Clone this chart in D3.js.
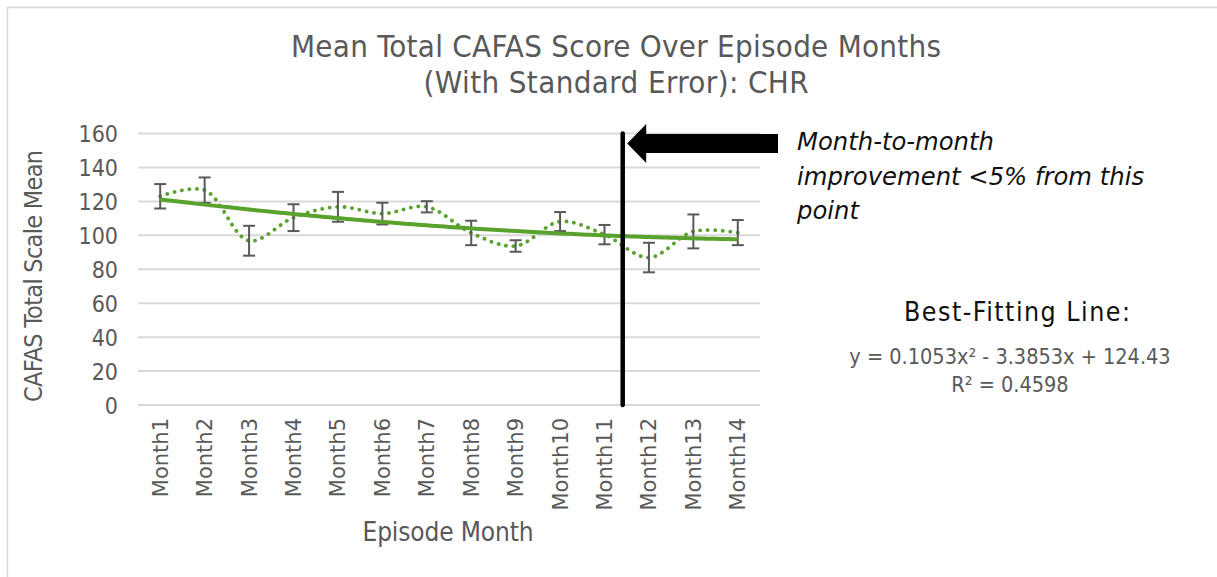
<!DOCTYPE html>
<html><head><meta charset="utf-8">
<script src="https://cdn.jsdelivr.net/npm/d3@7"></script>
<style>
html,body{margin:0;padding:0;background:#fff;}
svg{display:block;}
</style></head>
<body>
<svg id="chart" width="1217" height="577"></svg>
<script>
const months = ["Month1","Month2","Month3","Month4","Month5","Month6","Month7","Month8","Month9","Month10","Month11","Month12","Month13","Month14"];
const meanScores = [123, 126.6, 96.8, 110.4, 116.8, 112.8, 116.8, 101.4, 93.7, 108.1, 100.4, 86.9, 102.3, 101.6];
const stdErrors = [7.2, 7.5, 8.8, 7.9, 8.8, 6.4, 3.3, 7.2, 3.4, 5.6, 5.7, 8.7, 10.0, 7.4];
const yTicks = [0, 20, 40, 60, 80, 100, 120, 140, 160];
const trendCoef = [124.43, -3.3853, 0.1053]; // c0 + c1*x + c2*x^2 (from chart label)
const titleLines = ["Mean Total CAFAS Score Over Episode Months", "(With Standard Error): CHR"];
const noteLines = ["Month-to-month", "improvement <5% from this", "point"];
const fitLines = ["y = 0.1053x\u00B2 - 3.3853x + 124.43", "R\u00B2 = 0.4598"];

const COND = '"DejaVu Sans Condensed","DejaVu Sans",sans-serif';
const WIDE = '"DejaVu Sans",sans-serif';

const svg = d3.select("#chart");
const green = "#58a22d", grid = "#d9d9d9", gray = "#595959";

// chart border
svg.append("rect").attr("x", 7.5).attr("y", 7.5).attr("width", 1230).attr("height", 600)
  .attr("fill", "#fff").attr("stroke", grid).attr("stroke-width", 1.5);

const plot = {left: 138, right: 760, top: 133.5, bottom: 405};
const x = d3.scaleBand().domain(months).range([plot.left, plot.right]);
const y = d3.scaleLinear().domain([0, 160]).range([plot.bottom, plot.top]);
const cx = m => x(m) + x.bandwidth() / 2;

// gridlines
svg.append("g").selectAll("line").data(yTicks).join("line")
  .attr("x1", plot.left).attr("x2", plot.right)
  .attr("y1", d => y(d)).attr("y2", d => y(d))
  .attr("stroke", grid).attr("stroke-width", 2);

// y axis labels
const yAxis = svg.append("g").attr("transform", `translate(${plot.left - 20},0)`)
  .call(d3.axisLeft(y).tickValues(yTicks).tickSize(0).tickPadding(0));
yAxis.select(".domain").remove();
yAxis.attr("font-family", null).attr("font-size", null);
yAxis.selectAll("text").attr("font-size", 23).attr("fill", gray)
  .style("font-family", COND).attr("dy", "0.36em");

// x axis labels
const xAxis = svg.append("g").attr("transform", `translate(0,${plot.bottom})`)
  .call(d3.axisBottom(x).tickSize(0).tickPadding(0));
xAxis.select(".domain").remove();
xAxis.attr("font-family", null).attr("font-size", null);
xAxis.selectAll("text")
  .attr("font-size", 21).attr("fill", gray)
  .style("font-family", WIDE)
  .attr("transform", "rotate(-90)")
  .attr("text-anchor", "end").attr("dy", "0.36em").attr("x", -13).attr("y", 0);

// titles
const titleW = [650, 385];
svg.append("text").attr("text-anchor", "middle")
  .attr("font-size", 31).attr("fill", gray).style("font-family", COND)
  .selectAll("tspan").data(titleLines).join("tspan")
  .attr("x", 616).attr("y", (d, i) => 57 + i * 35.5)
  .attr("textLength", (d, i) => titleW[i]).text(d => d);

svg.append("text").attr("transform", "translate(42,276) rotate(-90)")
  .attr("text-anchor", "middle").attr("font-size", 25).attr("fill", gray)
  .style("font-family", COND).attr("textLength", 252)
  .text("CAFAS Total Scale Mean");

svg.append("text").attr("x", 448).attr("y", 541).attr("text-anchor", "middle")
  .attr("font-size", 26).attr("fill", gray).style("font-family", COND)
  .attr("textLength", 171).text("Episode Month");

// data series (smoothed dotted)
const pts = months.map((m, i) => [cx(m), y(meanScores[i])]);
svg.append("path").datum(pts)
  .attr("d", d3.line().curve(d3.curveCatmullRom.alpha(0.5)))
  .attr("fill", "none").attr("stroke", green).attr("stroke-width", 3.8)
  .attr("stroke-linecap", "round").attr("stroke-dasharray", "0.1 7.4");

// error bars
const eb = svg.append("g").attr("stroke", gray).attr("stroke-width", 2);
months.forEach((m, i) => {
  const hi = y(meanScores[i] + stdErrors[i]), lo = y(meanScores[i] - stdErrors[i]);
  const c = cx(m);
  eb.append("line").attr("x1", c).attr("x2", c).attr("y1", hi).attr("y2", lo);
  eb.append("line").attr("x1", c - 6).attr("x2", c + 6).attr("y1", hi).attr("y2", hi);
  eb.append("line").attr("x1", c - 6).attr("x2", c + 6).attr("y1", lo).attr("y2", lo);
});

// polynomial trendline
const tx = d3.scaleLinear().domain([1, months.length]).range([cx(months[0]), cx(months[months.length - 1])]);
const trendPts = d3.range(1, months.length + 0.001, 0.1)
  .map(t => [tx(t), y(trendCoef[0] + trendCoef[1] * t + trendCoef[2] * t * t)]);
svg.append("path").datum(trendPts).attr("d", d3.line())
  .attr("fill", "none").attr("stroke", green).attr("stroke-width", 4);

// vertical marker line
const vx = cx("Month11") + 0.41 * x.step();
svg.append("line").attr("x1", vx).attr("x2", vx).attr("y1", y(160)).attr("y2", y(0))
  .attr("stroke", "#000").attr("stroke-width", 4.5).attr("stroke-linecap", "round");

// arrow
const ay = 143.5;
const tip = vx + 4.5;
svg.append("path")
  .attr("d", `M${tip},${ay} L${tip + 19},${ay - 19.5} L${tip + 19},${ay - 9.5} L778,${ay - 9.5} L778,${ay + 9.5} L${tip + 19},${ay + 9.5} L${tip + 19},${ay + 19.5} Z`)
  .attr("fill", "#000");

// annotation text
svg.append("text").attr("font-size", 24.3).attr("font-style", "italic").attr("fill", "#111")
  .style("font-family", WIDE)
  .selectAll("tspan").data(noteLines).join("tspan")
  .attr("x", 797).attr("y", (d, i) => 150 + i * 34.5).text(d => d);

svg.append("text").attr("x", 1017).attr("y", 321).attr("text-anchor", "middle")
  .attr("font-size", 26.5).attr("fill", "#111").style("font-family", COND)
  .attr("textLength", 226).text("Best-Fitting Line:");

svg.append("text").attr("text-anchor", "middle").attr("font-size", 21.5).attr("fill", gray)
  .style("font-family", COND)
  .selectAll("tspan").data(fitLines).join("tspan")
  .attr("x", 1010).attr("y", (d, i) => 364 + i * 28).text(d => d);
</script>
</body></html>
